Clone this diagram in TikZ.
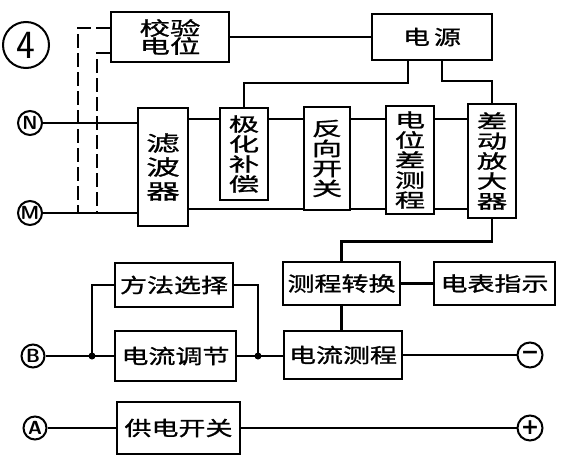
\documentclass[tikz,border=0pt]{standalone}
\usepackage{fontspec}
\usepackage{tikz}
\newfontfamily\cjk[FakeStretch=1.35,FakeBold=1.2]{Noto Sans CJK SC}
\newfontfamily\cjkwide[FakeStretch=1.6,FakeBold=1.2]{Noto Sans CJK SC}
\newfontfamily\signs{DejaVu Sans}

\begin{document}
\begin{tikzpicture}[x=1pt, y=-1pt,
    block/.style={rectangle, draw, line width=2.8pt, inner sep=2pt,
                  font=\cjk\fontsize{20}{20}\selectfont, align=center},
    col/.style={block, font=\cjkwide\fontsize{19}{20}\selectfont},
    term/.style={circle, draw, line width=2pt, minimum size=24pt, inner sep=0pt,
                 font=\sffamily\bfseries\fontsize{19}{19}\selectfont},
    pole/.style={term, minimum size=25pt, font=\signs\bfseries\fontsize{22}{22}\selectfont},
    wire/.style={line width=2.2pt},
    guide/.style={line width=1.8pt, dash pattern=on 14pt off 5pt}
]
    \useasboundingbox (0,0) rectangle (561,465);

    % upper chain
    \node[circle, draw, line width=2pt, minimum size=46pt, inner sep=0pt,
          font=\sffamily\fontsize{40}{40}\selectfont] (num) at (26,45) {4};
    \node[block, minimum width=118, minimum height=50,
          font=\cjkwide\fontsize{19}{18}\selectfont] (chk) at (170,37) {校验\\电位};
    \node[block, minimum width=120, minimum height=46] (pwr) at (432,37) {电\hspace{4pt}源};
    \node[col, minimum width=50, minimum height=118,
          font=\cjkwide\fontsize{21}{24}\selectfont] (filt) at (163,167) {滤\\波\\器};
    \node[col, minimum width=48, minimum height=92] (pol) at (244,154) {极\\化\\补\\偿};
    \node[col, minimum width=46, minimum height=103] (rev) at (327,158.5) {反\\向\\开\\关};
    \node[col, minimum width=48, minimum height=108] (pot) at (410,160) {电\\位\\差\\测\\程};
    \node[col, minimum width=48, minimum height=114] (amp) at (492,161) {差\\动\\放\\大\\器};

    % lower chain
    \node[block, minimum width=117, minimum height=43] (rng) at (341.5,283.5) {测程转换};
    \node[block, minimum width=121, minimum height=43] (met) at (494.5,283.5) {电表指示};
    \node[block, minimum width=118, minimum height=48] (cur) at (343,355) {电流测程};
    \node[block, minimum width=118, minimum height=44] (sel) at (174,285) {方法选择};
    \node[block, minimum width=121, minimum height=50] (adj) at (175.5,356) {电流调节};
    \node[block, minimum width=123, minimum height=52] (sw) at (178.5,428) {供电开关};

    % terminals
    \node[term] (N) at (30,123) {N};
    \node[term] (M) at (30,213) {M};
    \node[term, minimum size=23pt] (B) at (33,356) {B};
    \node[term, minimum size=23pt] (A) at (35,428) {A};
    \node[pole] (neg) at (530,355) {−};
    \node[pole] (pos) at (530,428) {+};

    \coordinate (j1) at (92,356);
    \coordinate (j2) at (258,356);
    \coordinate (d1) at (78,213);
    \coordinate (d2) at (97,213);

    % wiring
    \draw[wire] (chk) -- (pwr);
    \draw[wire] ([xshift=-24pt]pwr.south) -- ++(0,22) -| (pol.north);
    \draw[wire] ([xshift=10pt]pwr.south) -- ++(0,20) -| (amp.north);
    \draw[guide] ([yshift=9pt]chk.west) -| (d1);
    \draw[guide] ([yshift=-16pt]chk.west) -| (d2);
    \draw[wire] (N) -- (N -| filt.west);
    \draw[wire] (M) -- (M -| filt.west);
    \foreach \a/\b in {filt/pol, pol/rev, rev/pot, pot/amp}
        \draw[wire] (\a.east |- 0,119) -- (\b.west |- 0,119);
    \foreach \a/\b in {filt/rev, rev/pot, pot/amp}
        \draw[wire] (\a.east |- 0,209) -- (\b.west |- 0,209);
    \draw[wire] (amp.south) -- ++(0,22) -| (rng.north);
    \draw[wire] (rng) -- (met);
    \draw[wire] (rng.south) -- (rng.south |- cur.north);
    \draw[wire] (cur) -- (neg);
    \draw[wire] (B) -- (adj);
    \draw[wire] (j1) |- (sel.west);
    \draw[wire] (sel.east) -| (j2);
    \draw[wire] (adj.east) -- (j2) -- (j2 -| cur.west);
    \draw[wire] (A) -- (sw);
    \draw[wire] (sw) -- (pos);
    \fill (j1) circle (3.5pt);
    \fill (j2) circle (3.5pt);
\end{tikzpicture}
\end{document}
